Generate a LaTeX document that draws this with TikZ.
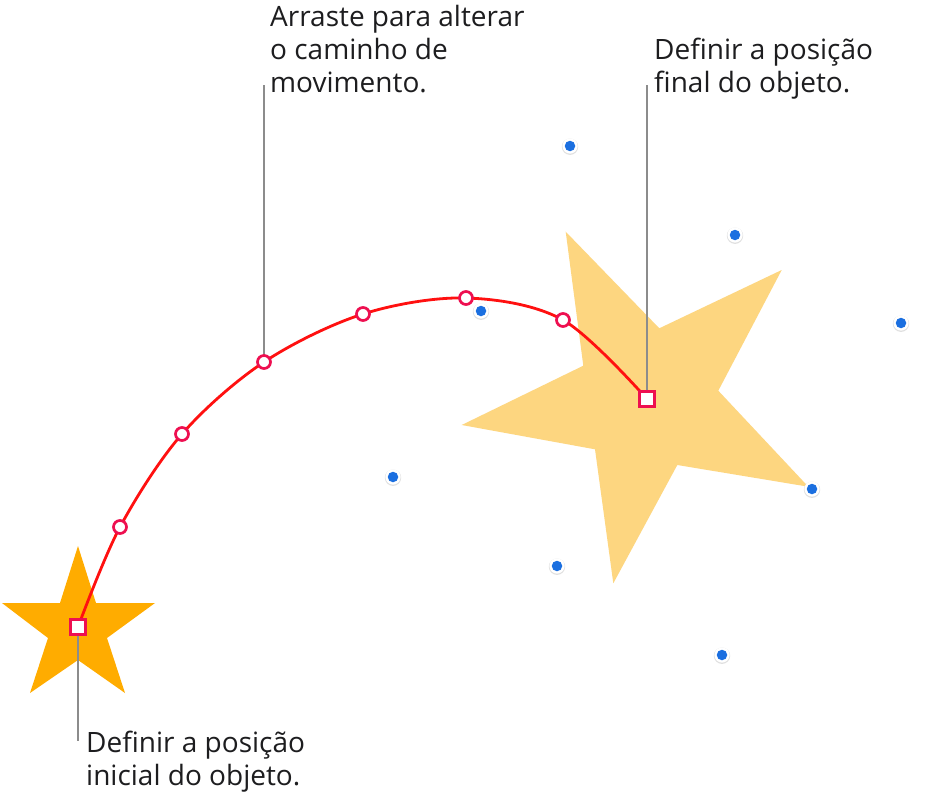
\documentclass[tikz,border=0pt]{standalone}
\usepackage{fontspec}
\setmainfont{Open Sans}
\definecolor{smallstar}{HTML}{FFAC00}
\definecolor{bigstar}{HTML}{FDD680}
\definecolor{pathred}{HTML}{FF1010}
\definecolor{markred}{HTML}{EE0F50}
\definecolor{leader}{HTML}{8C8C8C}
\definecolor{handle}{HTML}{1B6FE0}
\definecolor{txt}{HTML}{1D1D1F}
\tikzset{
  pmark/.style={circle, draw=markred, fill=white, line width=2.7pt, minimum size=13pt, inner sep=0pt},
  smark/.style={rectangle, draw=markred, fill=white, line width=2.7pt, minimum size=14.5pt, inner sep=0pt},
  leaderline/.style={draw=leader, line width=2.4pt},
  label/.style={anchor=base west, align=left, inner sep=0pt, text=txt, font=\fontsize{28}{33}\selectfont},
  handledot/.style={circle, fill=handle, minimum size=10.5pt, inner sep=0pt},
}
\begin{document}
\begin{tikzpicture}[x=1pt,y=-1pt]
\useasboundingbox (0,0) rectangle (931,803);
\fill[white] (0,0) rectangle (931,803);
% stars
\fill[smallstar] (78,546) -- (96,603) -- (155,603) -- (107,638) -- (125,693) -- (78,660) -- (30,693) -- (48,638) -- (2,603) -- (60,603) -- cycle;
\fill[bigstar] (565.7,231.7) -- (659.3,328.3) -- (781.7,270) -- (718.3,390.7) -- (808.3,486.7) -- (677.3,465) -- (613.3,583.3) -- (595,449.3) -- (461.7,425) -- (583.3,365.7) -- cycle;
% coordinates of path points
\coordinate (c0) at (78,627);
\coordinate (c1) at (120,527);
\coordinate (c2) at (182,434);
\coordinate (c3) at (264,362);
\coordinate (c4) at (363,314);
\coordinate (c5) at (466,298);
\coordinate (c6) at (563,320);
\coordinate (c7) at (647,399);
% leaders
\coordinate (l0) at (78,741);
\coordinate (l3) at (264,85);
\coordinate (l7) at (647,85);
\draw[leaderline] (c0) -- (l0);
\draw[leaderline] (c3) -- (l3);
\draw[leaderline] (c7) -- (l7);
% motion path
\draw[pathred, line width=2.8pt] plot[smooth, tension=0.55] coordinates {(c0) (c1) (c2) (c3) (c4) (c5) (c6) (c7)};
% handles
\foreach \n/\x/\y in {h1/570/146, h2/735/235, h3/901/323, h4/481/311, h5/393/477, h6/812/489, h7/557/566, h8/722/655} {
  \fill[black!12] (\x,\y+0.7) circle (8.2pt);
  \fill[white] (\x,\y) circle (7.6pt);
  \node[handledot] (\n) at (\x,\y) {};
}
% markers
\node[smark] (s0) at (c0) {};
\node[pmark] (p1) at (c1) {};
\node[pmark] (p2) at (c2) {};
\node[pmark] (p3) at (c3) {};
\node[pmark] (p4) at (c4) {};
\node[pmark] (p5) at (c5) {};
\node[pmark] (p6) at (c6) {};
\node[smark] (s7) at (c7) {};
% labels (anchored at the baseline of their last line)
\node[label] (t1) at (270,92) {Arraste para alterar\\o caminho de\\movimento.};
\node[label] (t2) at (654,92) {Definir a posição\\final do objeto.};
\node[label] (t3) at (86,785) {Definir a posição\\inicial do objeto.};
\end{tikzpicture}
\end{document}
